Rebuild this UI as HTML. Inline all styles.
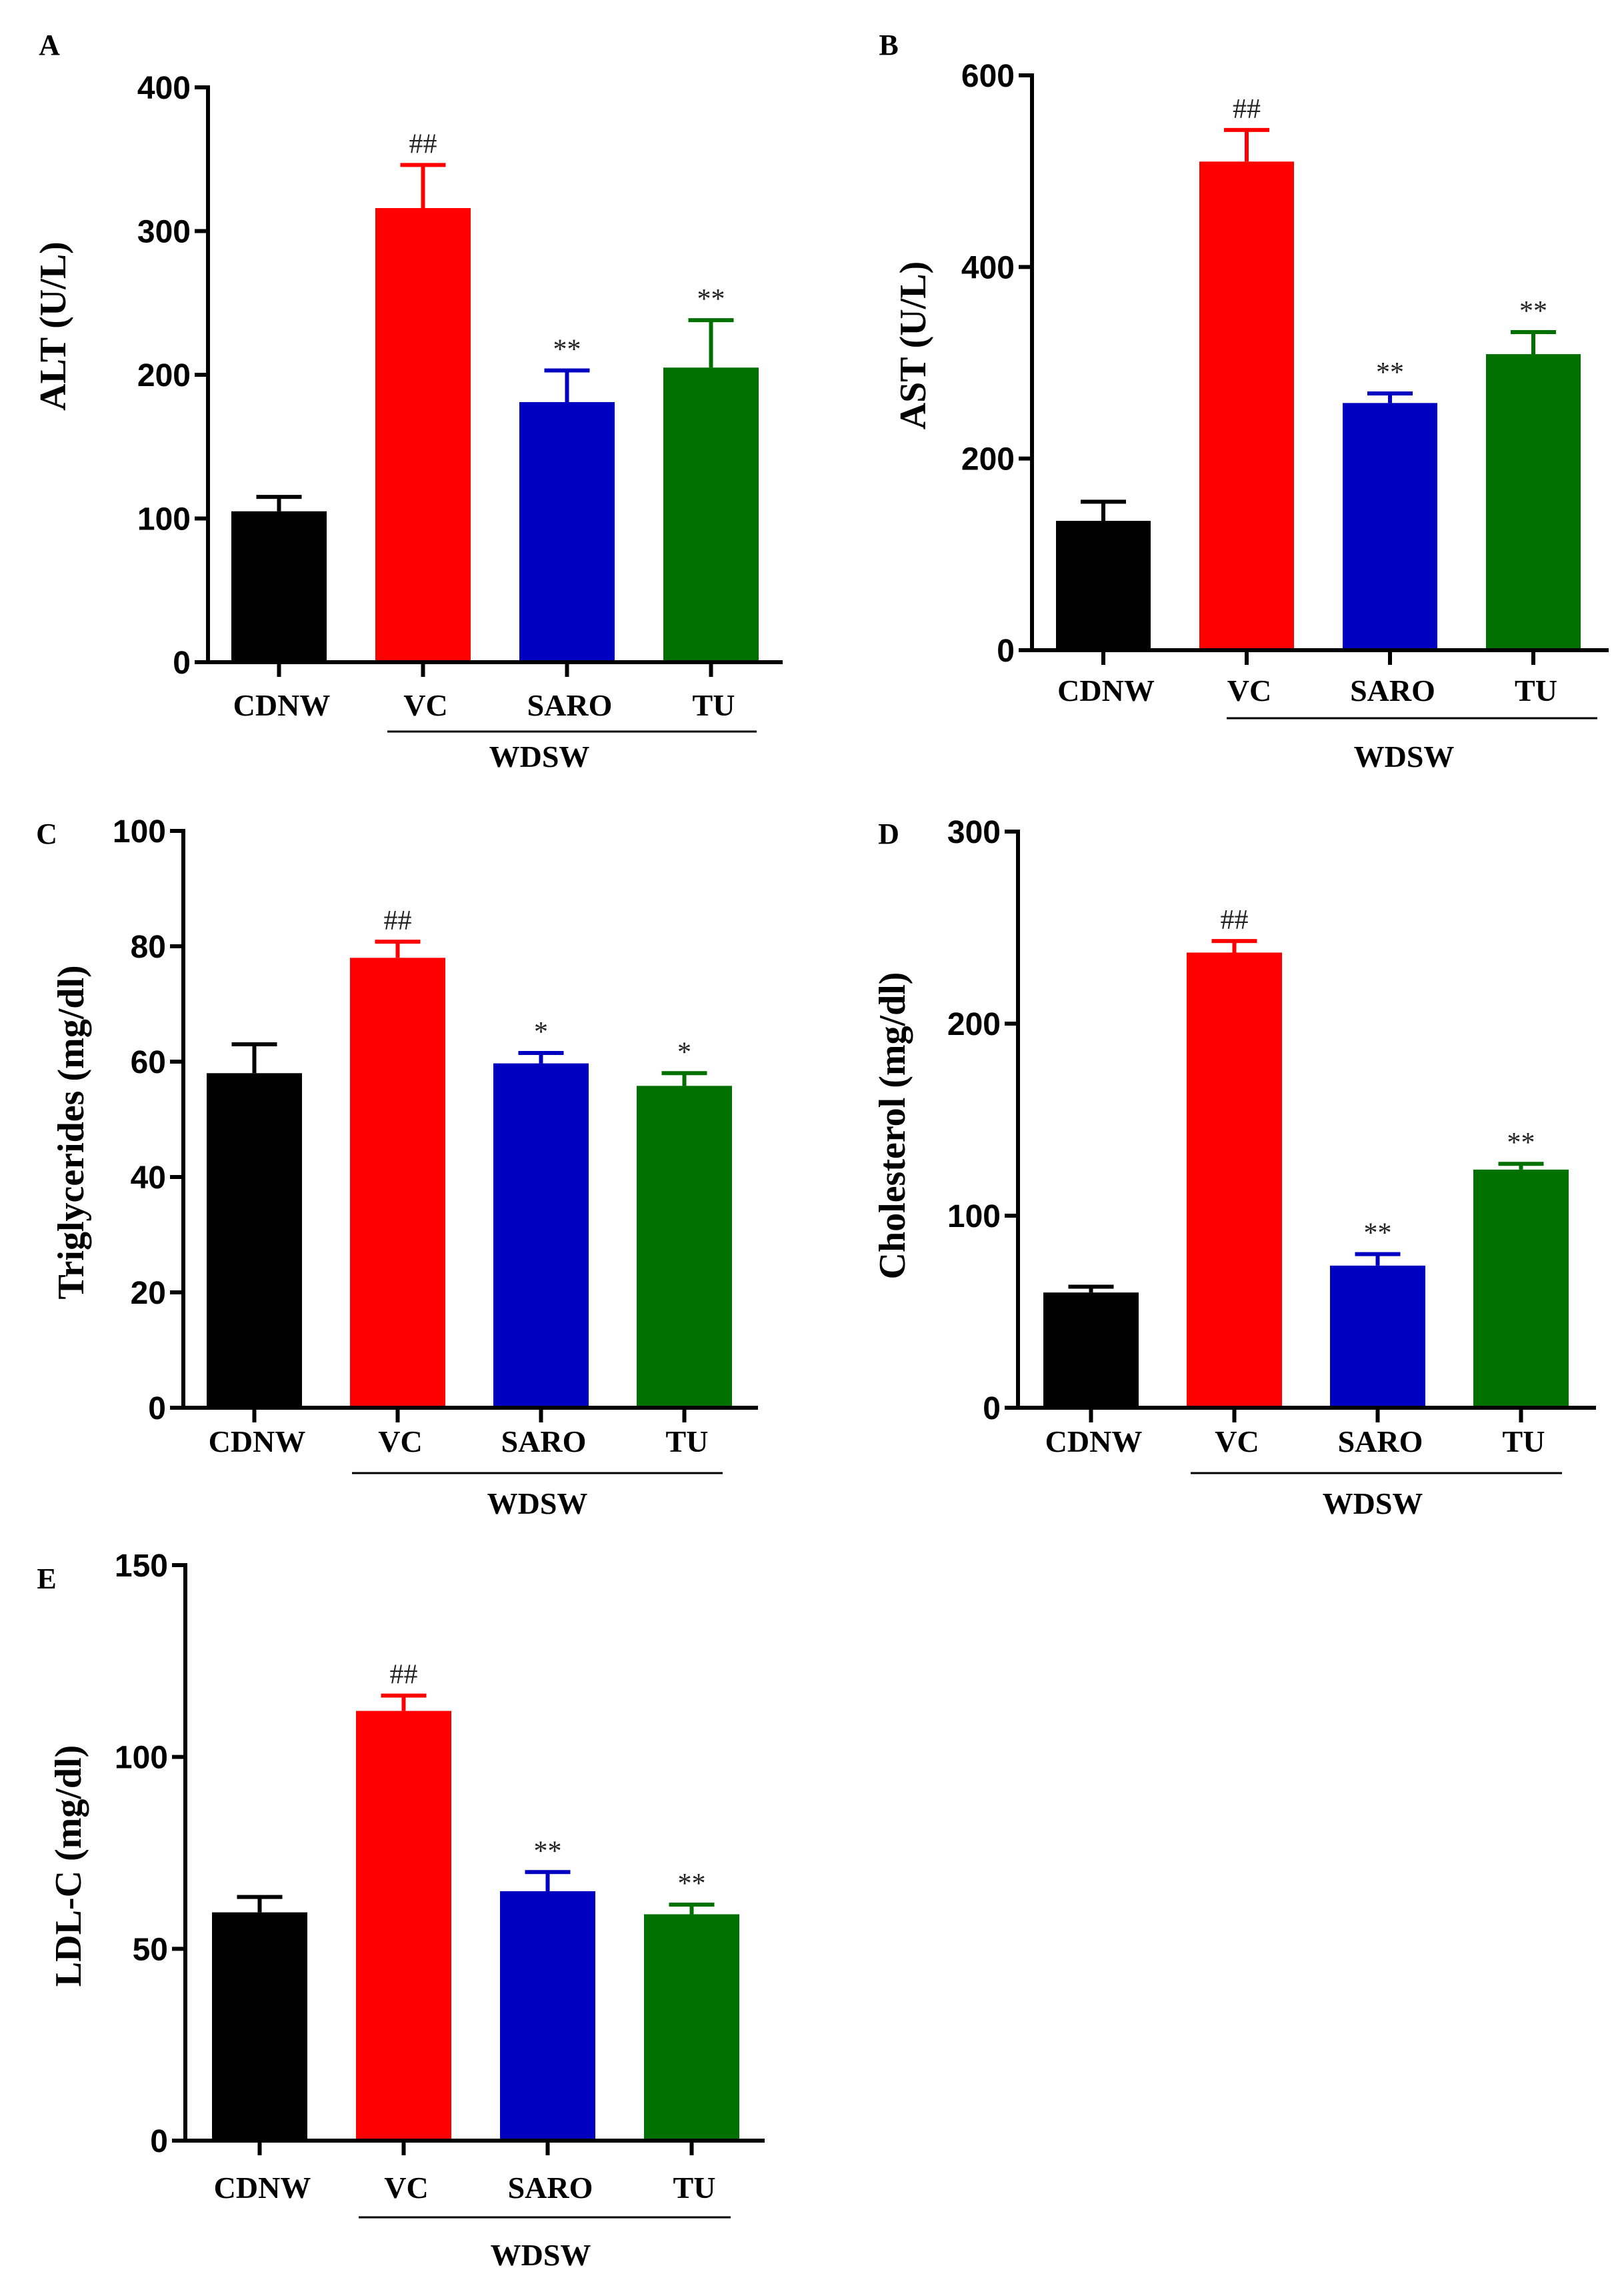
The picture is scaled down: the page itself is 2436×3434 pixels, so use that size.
<!DOCTYPE html>
<html><head><meta charset="utf-8">
<style>
html,body{margin:0;padding:0;background:#fff;}
svg{display:block;}
</style></head>
<body>
<svg id="fig" xmlns="http://www.w3.org/2000/svg" width="2436" height="3434" viewBox="0 0 2436 3434"></svg>
<script>
const categories = ["CDNW","VC","SARO","TU"];
const altMeans = [105, 316, 181, 205];
const altErrs = [10, 30, 22, 33];
const altSig = ["", "##", "**", "**"];
const altTicks = [0, 100, 200, 300, 400];
const astMeans = [135, 510, 258, 309];
const astErrs = [20, 33, 10, 23];
const astSig = ["", "##", "**", "**"];
const astTicks = [0, 200, 400, 600];
const tgMeans = [58, 78, 59.7, 55.8];
const tgErrs = [5, 2.8, 1.8, 2.2];
const tgSig = ["", "##", "*", "*"];
const tgTicks = [0, 20, 40, 60, 80, 100];
const cholMeans = [60, 237, 74, 124];
const cholErrs = [3, 6, 6, 3];
const cholSig = ["", "##", "**", "**"];
const cholTicks = [0, 100, 200, 300];
const ldlMeans = [59.5, 112, 65, 59];
const ldlErrs = [4, 4, 5, 2.5];
const ldlSig = ["", "##", "**", "**"];
const ldlTicks = [0, 50, 100, 150];
const colors = ["#000000", "#ff0000", "#0000c0", "#007000"];

const NS = "http://www.w3.org/2000/svg";
const svg = document.getElementById("fig");
function mk(tag, attrs, parent, text) {
  const e = document.createElementNS(NS, tag);
  for (const k in attrs) e.setAttribute(k, attrs[k]);
  if (text !== undefined) e.textContent = text;
  parent.appendChild(e);
  return e;
}

const panels = [
  {id:"a", letter:"A", title:"ALT (U/L)", means:altMeans, errs:altErrs, sig:altSig, ticks:altTicks,
   ax:312, y0:993, yTop:131, xEnd:1174, bx:347, pitch:216, bw:143, lx:74, ly:82, tx:78, ty:489,
   lineY:1097, lineX1:581, lineX2:1135, labY:1073, wY:1150, wX:809},
  {id:"b", letter:"B", title:"AST (U/L)", means:astMeans, errs:astErrs, sig:astSig, ticks:astTicks,
   ax:1548, y0:975, yTop:113, xEnd:2413, bx:1584, pitch:215, bw:142, lx:1333, ly:82, tx:1368, ty:518,
   lineY:1077, lineX1:1840, lineX2:2396, labY:1051, wY:1150, wX:2106},
  {id:"c", letter:"C", title:"Triglycerides (mg/dl)", means:tgMeans, errs:tgErrs, sig:tgSig, ticks:tgTicks,
   ax:275, y0:2111, yTop:1246, xEnd:1137, bx:310, pitch:215, bw:143, lx:70, ly:1265, tx:105, ty:1698,
   lineY:2209, lineX1:528, lineX2:1084, labY:2177, wY:2270, wX:806},
  {id:"d", letter:"D", title:"Cholesterol (mg/dl)", means:cholMeans, errs:cholErrs, sig:cholSig, ticks:cholTicks,
   ax:1527, y0:2111, yTop:1247, xEnd:2394, bx:1565, pitch:215, bw:143, lx:1333, ly:1265, tx:1337, ty:1688,
   lineY:2209, lineX1:1786, lineX2:2343, labY:2177, wY:2270, wX:2059},
  {id:"e", letter:"E", title:"LDL-C (mg/dl)", means:ldlMeans, errs:ldlErrs, sig:ldlSig, ticks:ldlTicks,
   ax:278, y0:3210, yTop:2347, xEnd:1147, bx:318, pitch:216, bw:143, lx:70, ly:2382, tx:101, ty:2798,
   lineY:3325, lineX1:538, lineX2:1096, labY:3296, wY:3397, wX:811}
];

panels.forEach(p => {
  const g = mk("g", {}, svg);
  
  
  const vmax = p.ticks[p.ticks.length - 1];
  const yScale = v => p.y0 - (v / vmax) * (p.y0 - p.yTop);
  const xLeft = i => p.bx + i * p.pitch;
  const xCenter = i => xLeft(i) + p.bw / 2;

  const letter = mk("text", {x:p.lx, y:p.ly, "font-family":"Liberation Serif, serif", "font-weight":"bold", "font-size":44, "text-anchor":"middle"}, g, p.letter);
  
  

  const title = mk("text", {x:0, y:0, transform:`translate(${p.tx + 20},${p.ty}) rotate(-90)`, "font-family":"Liberation Serif, serif", "font-weight":"bold", "font-size":56, "text-anchor":"middle"}, g, p.title);
  
  

  // bars and error bars
  p.means.forEach((m, i) => {
    const top = yScale(m);
    const bar = mk("rect", {x:xLeft(i), y:top, width:p.bw, height:p.y0 - top, fill:colors[i]}, g);
    
    
    const et = yScale(m + p.errs[i]);
    const eb = mk("path", {d:`M${xCenter(i)},${top} V${et} M${xCenter(i)-34},${et} H${xCenter(i)+34}`, stroke:colors[i], "stroke-width":6, fill:"none"}, g);
    
    
    if (p.sig[i]) {
      const s = mk("text", {x:xCenter(i), y:et - 18, "font-family":"Liberation Serif, serif", "font-size":42, "text-anchor":"middle", fill:"#222"}, g, p.sig[i]);
      
      
    }
  });

  // axes
  const yAxis = mk("line", {x1:p.ax, y1:p.yTop - 3, x2:p.ax, y2:p.y0 + 3, stroke:"#000", "stroke-width":6}, g);
  
  
  const xAxis = mk("line", {x1:p.ax - 20, y1:p.y0, x2:p.xEnd, y2:p.y0, stroke:"#000", "stroke-width":6}, g);
  
  

  p.ticks.forEach(t => {
    const y = yScale(t);
    const tk = mk("line", {x1:p.ax - 20, y1:y, x2:p.ax, y2:y, stroke:"#000", "stroke-width":6}, g);
    
    
    const tl = mk("text", {x:p.ax - 26, y:y + 17, "font-family":"Liberation Sans, sans-serif", "font-weight":"bold", "font-size":48, "text-anchor":"end"}, g, String(t));
    
    
  });

  categories.forEach((c, i) => {
    const tk = mk("line", {x1:xCenter(i), y1:p.y0, x2:xCenter(i), y2:p.y0 + 22, stroke:"#000", "stroke-width":6}, g);
    
    
    const cl = mk("text", {x:xCenter(i) + 4, y:p.labY, "font-family":"Liberation Serif, serif", "font-weight":"bold", "font-size":46, "text-anchor":"middle"}, g, c);
    
    
  });

  const gl = mk("line", {x1:p.lineX1, y1:p.lineY, x2:p.lineX2, y2:p.lineY, stroke:"#000", "stroke-width":3}, g);
  
  
  const gt = mk("text", {x:p.wX, y:p.wY, "font-family":"Liberation Serif, serif", "font-weight":"bold", "font-size":46, "text-anchor":"middle"}, g, "WDSW");
  
  
});
</script>
</body></html>
